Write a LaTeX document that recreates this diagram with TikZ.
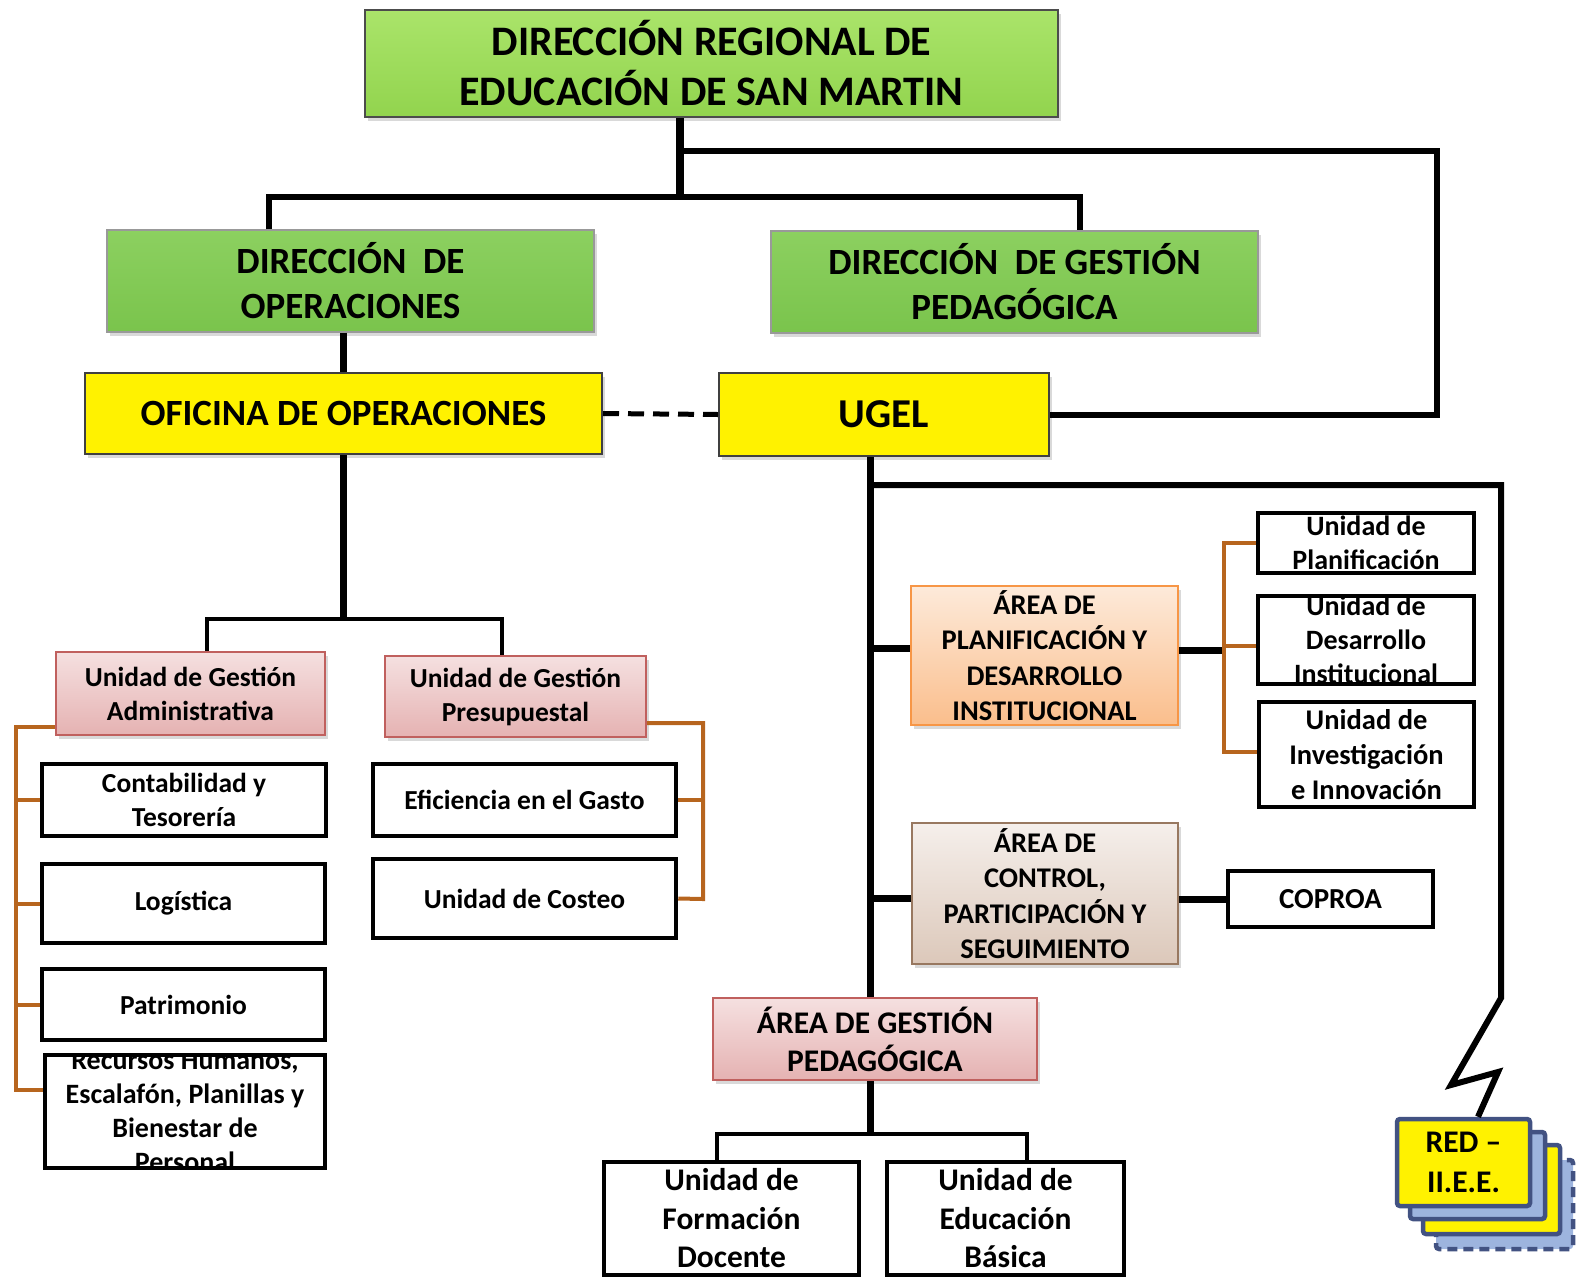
\documentclass[tikz,border=0pt]{standalone}
\usepackage{fontspec}
\setmainfont{Carlito}
\usetikzlibrary{shadows}

\definecolor{grtop}{RGB}{170,228,106}
\definecolor{grbot}{RGB}{146,212,78}
\definecolor{gr2top}{RGB}{140,208,96}
\definecolor{gr2bot}{RGB}{122,196,76}
\definecolor{pktop}{RGB}{245,224,224}
\definecolor{pkbot}{RGB}{229,178,178}
\definecolor{pkline}{RGB}{192,96,94}
\definecolor{ortop}{RGB}{253,234,218}
\definecolor{orbot}{RGB}{250,190,140}
\definecolor{orline}{RGB}{247,150,70}
\definecolor{tntop}{RGB}{245,239,235}
\definecolor{tnbot}{RGB}{220,200,186}
\definecolor{tnline}{RGB}{152,120,96}
\definecolor{brk}{RGB}{183,101,30}
\definecolor{redblue}{RGB}{157,180,222}
\definecolor{redline}{RGB}{66,82,130}

\newcommand{\fz}[2]{\fontsize{#1}{#2}\selectfont\bfseries}

\begin{document}
\begin{tikzpicture}
  [x=1pt,y=-1pt,
   every node/.style={align=center,inner sep=0pt},
   shdw/.style={drop shadow={opacity=.3,shadow xshift=3pt,shadow yshift=-4pt}},
   greenbox/.style={draw=black!70,line width=2,top color=grtop,bottom color=grbot,shdw},
   green2box/.style={draw=gray!80,line width=1.5,top color=gr2top,bottom color=gr2bot,shdw},
   yellowbox/.style={draw=black!75,line width=2,fill=yellow,shdw},
   pinkbox/.style={draw=pkline,line width=2,top color=pktop,bottom color=pkbot,shdw},
   orangebox/.style={draw=orline,line width=2,top color=ortop,bottom color=orbot,shdw},
   tanbox/.style={draw=tnline,line width=2,top color=tntop,bottom color=tnbot,shdw},
   unitbox/.style={draw=black,line width=4.5,fill=white,font=\fz{27.5}{34}},
   cut/.style={path picture={\node[font=\fz{28}{34}] at (path picture bounding box.center) {#1};}},
   stackbox/.style={draw=redline,line width=4.5,rounded corners=3},
   link/.style={line width=7},
   thinlink/.style={line width=3.5},
   bracket/.style={draw=brk,line width=4}]
  \useasboundingbox (0,0) rectangle (1581,1280);

  \node[greenbox,minimum width=693,minimum height=107,font=\fz{42}{50}] (dre) at (711.5,63.5) {DIRECCIÓN REGIONAL DE\\EDUCACIÓN DE SAN MARTIN};
  \node[green2box,minimum width=487,minimum height=102,font=\fz{37}{45}] (dop) at (350.5,281) {DIRECCIÓN\ \ DE\\OPERACIONES};
  \node[green2box,minimum width=487,minimum height=102,font=\fz{37}{45}] (dgp) at (1014.5,282) {DIRECCIÓN\ \ DE GESTIÓN\\PEDAGÓGICA};
  \node[yellowbox,minimum width=517,minimum height=81,font=\fz{37}{45}] (ofi) at (343.5,413.5) {OFICINA DE OPERACIONES};
  \node[yellowbox,minimum width=330,minimum height=83,font=\fz{41}{49}] (ugel) at (884,414.5) {UGEL};

  \node[pinkbox,minimum width=269,minimum height=83,font=\fz{27.5}{34}] (uga) at (190.5,693.5) {Unidad de Gestión\\Administrativa};
  \node[pinkbox,minimum width=261,minimum height=81,font=\fz{27.5}{34}] (ugp) at (515.5,696.5) {Unidad de Gestión\\Presupuestal};
  \node[unitbox,minimum width=284,minimum height=72] (cont) at (184,800) {Contabilidad y\\Tesorería};
  \node[unitbox,minimum width=283,minimum height=79] (logi) at (183.5,903.5) {Logística};
  \node[unitbox,minimum width=283,minimum height=71] (patr) at (183.5,1004.5) {Patrimonio};
  \node[unitbox,minimum width=280,minimum height=113,cut={Recursos Humanos,\\Escalafón, Planillas y\\Bienestar de\\Personal}] (rrhh) at (185,1111.5) {};
  \node[unitbox,minimum width=303,minimum height=72] (efic) at (524.5,800) {Eficiencia en el Gasto};
  \node[unitbox,minimum width=303,minimum height=79] (cost) at (524.5,898.5) {Unidad de Costeo};

  \node[orangebox,minimum width=267,minimum height=139,font=\fz{28.5}{35.5}] (apdi) at (1044.5,655.5) {ÁREA DE\\PLANIFICACIÓN Y\\DESARROLLO\\INSTITUCIONAL};
  \node[unitbox,minimum width=216,minimum height=60,cut={Unidad de\\Planificación}] (uplan) at (1366,543) {};
  \node[unitbox,minimum width=216,minimum height=88,cut={Unidad de\\Desarrollo\\Institucional}] (udes) at (1366,640) {};
  \node[unitbox,minimum width=215,minimum height=105,font=\fz{28.5}{35}] (uinv) at (1366.5,754.5) {Unidad de\\Investigación\\e Innovación};
  \node[tanbox,minimum width=266,minimum height=141,font=\fz{28.5}{35.5}] (acps) at (1045,893.5) {ÁREA DE\\CONTROL,\\PARTICIPACIÓN Y\\SEGUIMIENTO};
  \node[unitbox,minimum width=205,minimum height=56,font=\fz{29}{35}] (copr) at (1330.5,899) {COPROA};

  \node[pinkbox,minimum width=324,minimum height=82,font=\fz{31.5}{38}] (agp) at (875,1039) {ÁREA DE GESTIÓN\\PEDAGÓGICA};
  \node[unitbox,minimum width=255,minimum height=113,font=\fz{31.5}{38.5}] (ufd) at (731.5,1218.5) {Unidad de\\Formación\\Docente};
  \node[unitbox,minimum width=237,minimum height=113,font=\fz{31.5}{38.5}] (ueb) at (1005.5,1218.5) {Unidad de\\Educación\\Básica};

  % red de instituciones
  \draw[stackbox,fill=redblue,dash pattern=on 10pt off 6pt] (1436,1160) rectangle (1573,1249);
  \draw[stackbox,fill=yellow] (1423,1145) rectangle (1560,1234);
  \draw[stackbox,fill=redblue] (1410,1132) rectangle (1545,1219);
  \node[stackbox,fill=yellow,minimum width=133,minimum height=87,font=\fz{31.5}{40}] (red) at (1463.5,1162.5) {RED –\\II.E.E.};

  % conectores
  \coordinate (j0) at (680,151);
  \coordinate (j1) at (680,197);
  \coordinate (b1) at (269,197);
  \coordinate (b2) at (1080,197);
  \draw[link,line width=8] (dre.south -| j0) -- (j1);
  \draw[link,line width=6] (b1 |- dop.north) -- (b1) -- (b2) -- (b2 |- dgp.north);
  \draw[link,line width=6] (j0) -- (1437,151) |- (ugel.east);
  \draw[link] (dop.south -| ofi.north) -- (ofi.north);
  \draw[link,line width=5,dash pattern=on 16pt off 9pt] (ofi.east) -- (ugel.west);

  \coordinate (o1) at (343.5,619);
  \draw[link] (ofi.south) -- (o1);
  \draw[thinlink] (uga.north -| 207,0) |- (o1) -| (ugp.north -| 502,0);
  \draw[bracket] (uga.west |- 0,727) -| (16,1090) -- (rrhh.west |- 0,1090);
  \foreach \n in {cont,logi,patr}
    \draw[bracket] (\n.west) -- (\n.west -| 16,0);
  \draw[bracket] (ugp.east |- 0,723) -| (703,899) -- (cost.east);
  \draw[bracket] (efic.east) -- (efic.east -| 703,0);

  \coordinate (u1) at (870,485);
  \draw[link] (ugel.south -| u1) -- (agp.north -| u1);
  \draw[link,line width=6] (u1) -- (1501,485) -- (1501,998) -- (1451,1085) -- (1498,1072) -- (red.north -| 1478,0);
  \draw[link] (u1 |- 0,648) -- (apdi.west |- 0,648);
  \draw[link] (u1 |- 0,898) -- (acps.west |- 0,898);
  \draw[link] (apdi.east |- 0,650) -- (1224,650);
  \draw[bracket] (uplan.west) -| (1224,752) -- (uinv.west |- 0,752);
  \draw[bracket] (udes.west |- 0,646) -- (1224,646);
  \draw[link] (acps.east |- copr.west) -- (copr.west);

  \coordinate (a1) at (870,1134);
  \draw[link] (agp.south -| a1) -- (a1);
  \draw[thinlink] (ufd.north -| 717,0) |- (a1) -| (ueb.north -| 1027,0);
\end{tikzpicture}
\end{document}
